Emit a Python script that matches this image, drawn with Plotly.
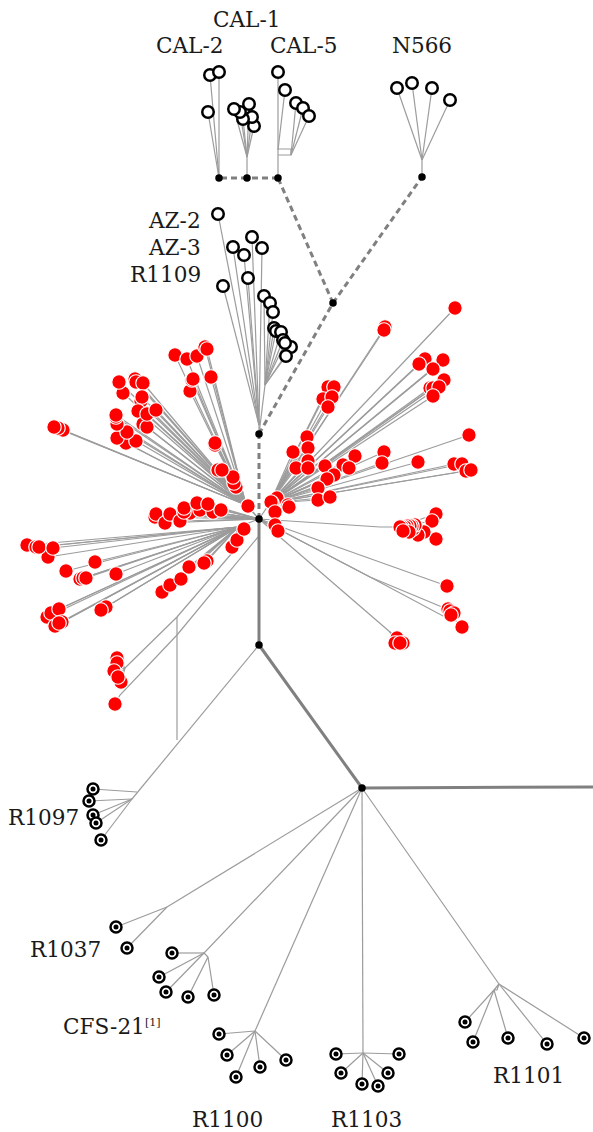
import plotly.graph_objects as go

# ---- internal tree nodes (tree layout coordinates) ----
root = (259, 519); az_node = (259, 434); lower_node = (259, 645); junction = (362, 788)
right_end = (593, 787); top_node = (333, 303); cal5_node = (278, 178); cal1_node = (247, 178)
cal2_node = (219, 178); n566_node = (422, 177)

# ---- red isolates ----
ul_x = [63, 58, 54, 126, 117, 136, 127, 117, 116, 116, 123, 119, 135, 136, 143, 141, 142, 138, 143, 147, 147, 156,
        236, 234, 233, 218, 222, 215, 215, 190, 192, 193, 211, 175, 187, 197, 205, 207]
ul_y = [430, 428, 427, 443, 438, 441, 432, 424, 417, 415, 393, 382, 379, 382, 383, 401, 397, 411, 424, 427, 414, 410,
        487, 483, 477, 470, 470, 445, 443, 391, 380, 379, 377, 355, 359, 356, 347, 349]
ml_x = [155, 156, 165, 170, 180, 190, 184, 184, 200, 197, 213, 208, 221, 248]
ml_y = [517, 514, 523, 514, 521, 513, 512, 508, 510, 503, 512, 504, 510, 506]
ll_x = [121, 117, 117, 114, 118, 115]
ll_y = [682, 658, 663, 671, 677, 704]
lw_x = [48, 27, 36, 39, 53, 66, 95, 80, 83, 86, 116, 47, 51, 55, 59, 62, 59, 106, 101,
        162, 170, 181, 189, 207, 204, 232, 237, 244]
lw_y = [557, 545, 547, 547, 548, 571, 562, 579, 578, 578, 574, 617, 613, 626, 609, 622, 623, 607, 610,
        592, 585, 579, 567, 561, 563, 547, 540, 529]
ur_x = [455, 385, 384, 328, 334, 323, 332, 328, 425, 419, 443, 433, 444, 430, 433, 439, 433,
        307, 308, 293, 308, 296, 308, 325, 343, 355, 349, 334, 327, 318, 318, 330, 384, 382, 418, 469,
        454, 462, 466, 471, 277, 272, 271, 288, 289, 275]
ur_y = [308, 327, 330, 387, 387, 399, 397, 407, 359, 364, 360, 369, 380, 388, 388, 387, 396,
        437, 448, 452, 461, 468, 468, 466, 465, 456, 468, 475, 479, 488, 500, 497, 452, 463, 462, 435,
        464, 464, 471, 470, 498, 503, 502, 505, 507, 512]
rg_x = [436, 432, 436, 424, 418, 413, 415, 412, 410, 407, 405, 402, 400, 409, 403]
rg_y = [514, 521, 539, 532, 535, 529, 525, 526, 526, 526, 527, 527, 527, 532, 531]
lr_x = [275, 278, 447, 462, 448, 450, 454, 451, 397, 395, 403, 400]
lr_y = [525, 531, 586, 627, 609, 611, 613, 615, 638, 643, 643, 643]

# ---- open circles ----
cal2_x = [210, 219, 208]; cal2_y = [75, 72, 112]
cal1_x = [254, 252, 243, 240, 249, 234]; cal1_y = [126, 117, 119, 112, 104, 109]
cal5_x = [278, 285, 296, 303, 309]; cal5_y = [72, 90, 103, 108, 116]
n566_x = [397, 412, 432, 450]; n566_y = [88, 83, 88, 100]
az_x = [218, 233, 244, 252, 262, 248, 223]; az_y = [214, 247, 255, 237, 248, 278, 286]
r1109_x = [264, 270, 273, 274, 276, 291, 281, 283, 285, 286]
r1109_y = [296, 303, 312, 328, 331, 347, 332, 340, 343, 356]

# ---- bullseye circles ----
r1097_x = [93, 89, 93, 96, 101]; r1097_y = [789, 801, 815, 823, 840]
r1037_x = [116, 127]; r1037_y = [927, 948]
cfs_x = [172, 159, 166, 188, 214]; cfs_y = [953, 977, 992, 997, 995]
r1100_x = [219, 227, 236, 260, 286]; r1100_y = [1034, 1055, 1077, 1067, 1060]
r1103_x = [336, 399, 341, 388, 362, 378]; r1103_y = [1054, 1054, 1073, 1073, 1084, 1086]
r1101_x = [465, 473, 508, 547, 584]; r1101_y = [1022, 1042, 1038, 1044, 1038]

labels = ["CAL-1", "CAL-2", "CAL-5", "N566", "AZ-2", "AZ-3", "R1109", "R1097", "R1037",
          "CFS-21", "R1100", "R1103", "R1101"]
label_x = [247, 190, 304, 422, 203, 203, 203, 43, 65, 104, 227, 366, 528]
label_y = [19, 45, 45, 45, 220, 247, 274, 817, 949, 1026, 1119, 1119, 1075]
label_anchor = ["center", "center", "center", "center", "right", "right", "right", "center", "center",
                "center", "center", "center", "center"]
ref_mark = "[1]"
ref_mark_x = 153
ref_mark_y = 1022

thin_x, thin_y = [], []


def seg(*pts):
    for p in pts:
        thin_x.append(p[0]); thin_y.append(p[1])
    thin_x.append(None); thin_y.append(None)


def fan(hub, xs, ys):
    for x, y in zip(xs, ys):
        seg(hub, (x, y))


# red fans
ul_hub = (246, 505); seg(root, ul_hub); fan(ul_hub, ul_x, ul_y)
fan(root, ml_x, ml_y)
lw_hub = (238, 527); seg(root, lw_hub); fan(lw_hub, lw_x, lw_y)
ur_hub = (270, 503); seg(root, ur_hub); fan(ur_hub, ur_x, ur_y)
rg_hub = (398, 527); seg(root, (380, 527), rg_hub); fan(rg_hub, rg_x, rg_y)
fan(root, lr_x[:3], lr_y[:3])
lr_hub0 = (370, 577); lr_hub1 = (442, 607)
seg(root, lr_hub0, lr_hub1); fan(lr_hub1, lr_x[3:7], lr_y[3:7])
seg(root, lr_hub0, (443, 616), (lr_x[7], lr_y[7]))
lr_hub2 = (390, 632); seg(root, lr_hub2); fan(lr_hub2, lr_x[8:], lr_y[8:])
ll_hub = (125, 668); seg((232, 553), (177, 617), ll_hub); fan(ll_hub, ll_x[:5], ll_y[:5])
seg((258, 537), (177, 635), (120, 695), (ll_x[5], ll_y[5]))
seg((177, 617), (177, 740))

# lower clades
hub97a = (137, 792); hub97b = (132, 799)
seg(lower_node, hub97a, hub97b); fan(hub97a, r1097_x[:1], r1097_y[:1]); fan(hub97b, r1097_x[1:], r1097_y[1:])
hub37 = (167, 907); seg(junction, hub37); fan(hub37, r1037_x, r1037_y)
hubcfs = (204, 953); hubcfs2 = (208, 957)
seg(junction, hubcfs, hubcfs2); fan(hubcfs, cfs_x[:3], cfs_y[:3]); fan(hubcfs2, cfs_x[3:], cfs_y[3:])
hub100 = (255, 1031); seg(junction, hub100); fan(hub100, r1100_x, r1100_y)
hub103 = (363, 1053); seg(junction, hub103); fan(hub103, r1103_x, r1103_y)
hub101 = (499, 984); hub101b = (494, 990)
seg(junction, hub101, (497, 990), hub101b, hub101); fan(hub101b, r1101_x[:3], r1101_y[:3]); fan(hub101, r1101_x[3:], r1101_y[3:])

# upper clades
fan(cal2_node, cal2_x, cal2_y)
hub1 = (247, 157); seg(cal1_node, hub1); fan(hub1, cal1_x, cal1_y)
seg(cal5_node, (cal5_x[0], cal5_y[0]))
seg((278, 150), (cal5_x[1], cal5_y[1]))
hub5 = (291, 155); seg((278, 149), (291, 149), hub5, (278, 155)); fan(hub5, cal5_x[2:], cal5_y[2:])
hubn = (422, 160); seg(n566_node, hubn); fan(hubn, n566_x, n566_y)
fan((259, 425), az_x, az_y); seg(az_node, (259, 425))
hub9 = (265, 385); seg(az_node, hub9); fan(hub9, r1109_x, r1109_y)

fig = go.Figure()
GREY = "#9c9c9c"
fig.add_trace(go.Scatter(x=thin_x, y=thin_y, mode="lines", line=dict(color=GREY, width=1.2), hoverinfo="skip"))
for a, b in [(root, lower_node), (lower_node, junction), (junction, right_end)]:
    fig.add_trace(go.Scatter(x=[a[0], b[0]], y=[a[1], b[1]], mode="lines",
                             line=dict(color="#808080", width=3), hoverinfo="skip"))
for a, b in [(root, az_node), (az_node, top_node), (top_node, cal5_node), (top_node, n566_node),
             (cal5_node, cal1_node), (cal1_node, cal2_node)]:
    fig.add_trace(go.Scatter(x=[a[0], b[0]], y=[a[1], b[1]], mode="lines",
                             line=dict(color="#808080", width=3, dash="6px,4px"), hoverinfo="skip"))

red_x = ul_x + ml_x + lw_x + ll_x + ur_x + rg_x + lr_x
red_y = ul_y + ml_y + lw_y + ll_y + ur_y + rg_y + lr_y
fig.add_trace(go.Scatter(x=red_x, y=red_y, mode="markers", hoverinfo="skip",
                         marker=dict(color="#ff0000", size=14.5, line=dict(color="white", width=1.2))))

open_x = cal2_x + cal1_x + cal5_x + n566_x + az_x + r1109_x
open_y = cal2_y + cal1_y + cal5_y + n566_y + az_y + r1109_y
fig.add_trace(go.Scatter(x=open_x, y=open_y, mode="markers", hoverinfo="skip",
                         marker=dict(color="white", size=11.5, line=dict(color="black", width=2.5))))

bull_x = r1097_x + r1037_x + cfs_x + r1100_x + r1103_x + r1101_x
bull_y = r1097_y + r1037_y + cfs_y + r1100_y + r1103_y + r1101_y
fig.add_trace(go.Scatter(x=bull_x, y=bull_y, mode="markers", hoverinfo="skip",
                         marker=dict(color="white", size=11, line=dict(color="black", width=2.5))))
fig.add_trace(go.Scatter(x=bull_x, y=bull_y, mode="markers", hoverinfo="skip",
                         marker=dict(color="black", size=5)))

nodes = [root, az_node, lower_node, junction, top_node, cal5_node, cal1_node, cal2_node, n566_node]
fig.add_trace(go.Scatter(x=[n[0] for n in nodes], y=[n[1] for n in nodes], mode="markers", hoverinfo="skip",
                         marker=dict(color="black", size=7.5)))

for t, x, y, anc in zip(labels, label_x, label_y, label_anchor):
    fig.add_annotation(x=x, y=y, text=t, showarrow=False, xanchor=anc, yanchor="middle",
                       font=dict(family="DejaVu Serif", size=21.6, color="#1a1a1a"))
fig.add_annotation(x=ref_mark_x, y=ref_mark_y, text=ref_mark, showarrow=False, xanchor="center", yanchor="middle",
                   font=dict(family="DejaVu Serif", size=11, color="#1a1a1a"))

fig.update_xaxes(range=[0, 593], visible=False, fixedrange=True)
fig.update_yaxes(range=[1132, 0], visible=False, fixedrange=True)
fig.update_layout(width=593, height=1132, margin=dict(l=0, r=0, t=0, b=0), showlegend=False,
                  paper_bgcolor="white", plot_bgcolor="white")
fig.write_html("out.html", post_script="document.body.style.margin='0';", config={"displayModeBar": False})
